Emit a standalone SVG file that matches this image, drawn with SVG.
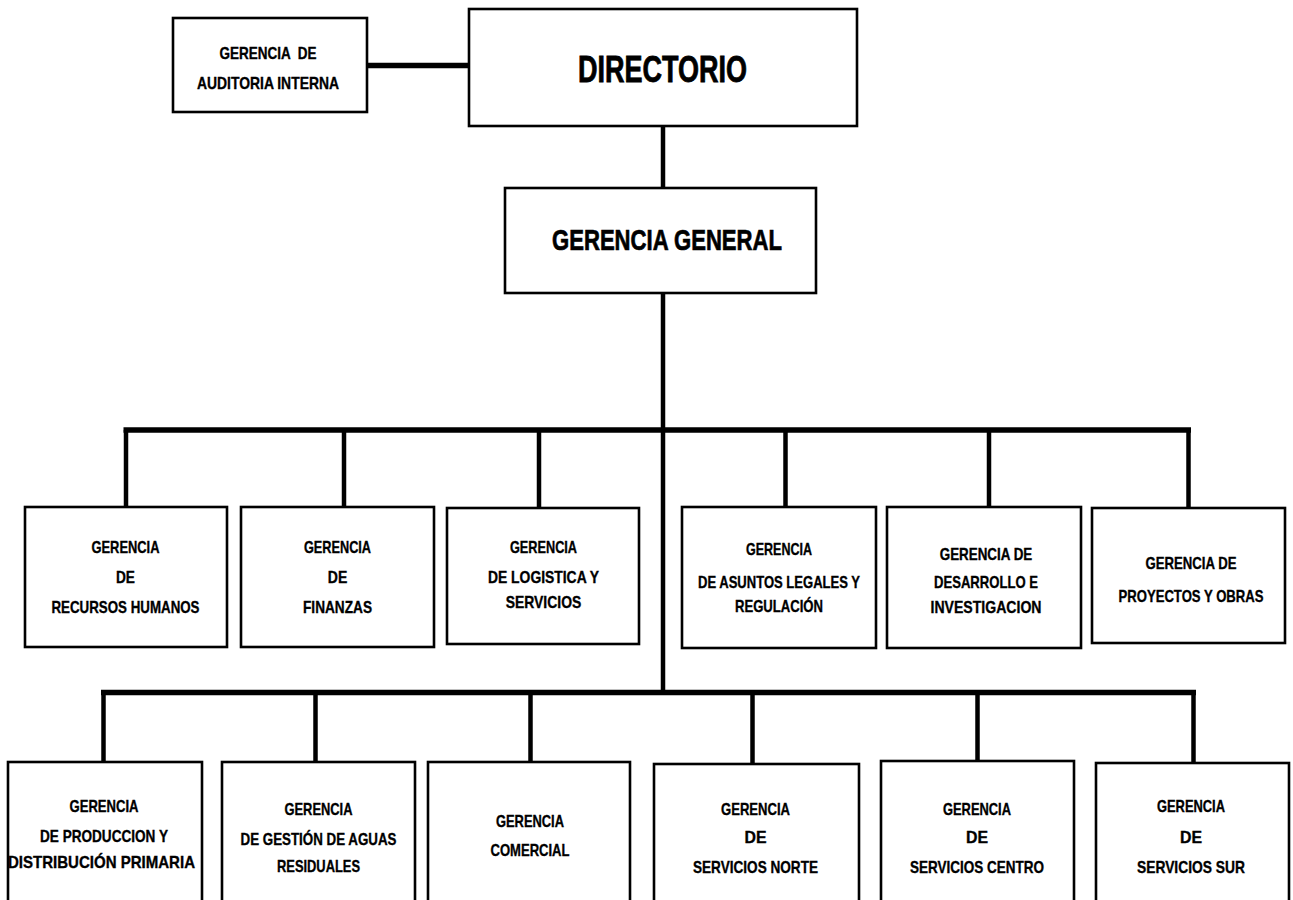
<svg xmlns="http://www.w3.org/2000/svg" width="1293" height="900" viewBox="0 0 1293 900">
<style>
.box{fill:#fff;stroke:#000;stroke-width:2.6}
.t{font-family:"Liberation Sans",Arial,sans-serif;font-weight:bold;font-size:17px;fill:#000;stroke:#000;stroke-width:0.35;text-anchor:middle}
.big{font-size:36px;stroke-width:0.8}
.gg{font-size:30px;stroke-width:0.7}
.c{stroke:#000;fill:none;stroke-linecap:butt}
.thick{stroke-width:5.5}
.mid{stroke-width:4.5}
</style>
<rect width="1293" height="900" fill="#fff"/>
<g id="connectors">
<line class="c thick" x1="367" y1="65.5" x2="469" y2="65.5"/>
<line class="c mid" x1="663" y1="126" x2="663" y2="188"/>
<line class="c mid" x1="663" y1="293" x2="663" y2="695"/>
<line class="c thick" x1="123.5" y1="430" x2="1191" y2="430"/>
<line class="c mid" x1="126" y1="430" x2="126" y2="507"/>
<line class="c mid" x1="344" y1="430" x2="344" y2="507"/>
<line class="c mid" x1="539" y1="430" x2="539" y2="508"/>
<line class="c mid" x1="785.5" y1="430" x2="785.5" y2="507"/>
<line class="c mid" x1="989" y1="430" x2="989" y2="507"/>
<line class="c mid" x1="1188.5" y1="430" x2="1188.5" y2="508"/>
<line class="c thick" x1="101" y1="692.5" x2="1196" y2="692.5"/>
<line class="c mid" x1="103.5" y1="692.5" x2="103.5" y2="762"/>
<line class="c mid" x1="315.5" y1="692.5" x2="315.5" y2="762"/>
<line class="c mid" x1="530.5" y1="692.5" x2="530.5" y2="762"/>
<line class="c mid" x1="752.5" y1="692.5" x2="752.5" y2="764"/>
<line class="c mid" x1="977.5" y1="692.5" x2="977.5" y2="761"/>
<line class="c mid" x1="1193.5" y1="692.5" x2="1193.5" y2="763"/>
</g>
<g id="auditoria">
<rect class="box" x="173" y="18" width="194" height="94"/>
<text class="t" x="268" y="59" textLength="97" lengthAdjust="spacingAndGlyphs" xml:space="preserve">GERENCIA  DE</text>
<text class="t" x="268" y="89" textLength="142" lengthAdjust="spacingAndGlyphs">AUDITORIA INTERNA</text>
</g>
<g id="directorio">
<rect class="box" x="469" y="9" width="388" height="117"/>
<text class="t big" x="662.5" y="82" textLength="169" lengthAdjust="spacingAndGlyphs">DIRECTORIO</text>
</g>
<g id="gerencia-general">
<rect class="box" x="505" y="188" width="311" height="105"/>
<text class="t gg" x="667" y="250" textLength="230" lengthAdjust="spacingAndGlyphs">GERENCIA GENERAL</text>
</g>
<g id="rrhh">
<rect class="box" x="25" y="507" width="202" height="140"/>
<text class="t" x="125.5" y="553" textLength="68" lengthAdjust="spacingAndGlyphs">GERENCIA</text>
<text class="t" x="125.5" y="583" textLength="19" lengthAdjust="spacingAndGlyphs">DE</text>
<text class="t" x="125.5" y="613" textLength="148" lengthAdjust="spacingAndGlyphs">RECURSOS HUMANOS</text>
</g>
<g id="finanzas">
<rect class="box" x="241" y="507" width="193" height="140"/>
<text class="t" x="337.5" y="553" textLength="67" lengthAdjust="spacingAndGlyphs">GERENCIA</text>
<text class="t" x="337.5" y="583" textLength="19.5" lengthAdjust="spacingAndGlyphs">DE</text>
<text class="t" x="337.5" y="613" textLength="69" lengthAdjust="spacingAndGlyphs">FINANZAS</text>
</g>
<g id="logistica">
<rect class="box" x="447" y="508" width="192" height="136"/>
<text class="t" x="543.5" y="553" textLength="67" lengthAdjust="spacingAndGlyphs">GERENCIA</text>
<text class="t" x="543.5" y="583" textLength="111" lengthAdjust="spacingAndGlyphs">DE LOGISTICA Y</text>
<text class="t" x="543.5" y="608" textLength="75.5" lengthAdjust="spacingAndGlyphs">SERVICIOS</text>
</g>
<g id="legales">
<rect class="box" x="682" y="507" width="194" height="141"/>
<text class="t" x="779" y="555" textLength="66" lengthAdjust="spacingAndGlyphs">GERENCIA</text>
<text class="t" x="779" y="588" textLength="162" lengthAdjust="spacingAndGlyphs">DE ASUNTOS LEGALES Y</text>
<text class="t" x="779" y="612" textLength="88" lengthAdjust="spacingAndGlyphs">REGULACIÓN</text>
</g>
<g id="desarrollo">
<rect class="box" x="887" y="507" width="194" height="141"/>
<text class="t" x="986" y="560" textLength="92.5" lengthAdjust="spacingAndGlyphs">GERENCIA DE</text>
<text class="t" x="986" y="588" textLength="104" lengthAdjust="spacingAndGlyphs">DESARROLLO E</text>
<text class="t" x="986" y="613" textLength="111" lengthAdjust="spacingAndGlyphs">INVESTIGACION</text>
</g>
<g id="proyectos">
<rect class="box" x="1092" y="508" width="193" height="135"/>
<text class="t" x="1191" y="569" textLength="91" lengthAdjust="spacingAndGlyphs">GERENCIA DE</text>
<text class="t" x="1191" y="602" textLength="145" lengthAdjust="spacingAndGlyphs">PROYECTOS Y OBRAS</text>
</g>
<g id="produccion">
<rect class="box" x="8" y="762" width="194" height="150"/>
<text class="t" x="104" y="812" textLength="69" lengthAdjust="spacingAndGlyphs">GERENCIA</text>
<text class="t" x="104" y="842" textLength="128" lengthAdjust="spacingAndGlyphs">DE PRODUCCION Y</text>
<text class="t" x="101.5" y="868" textLength="187" lengthAdjust="spacingAndGlyphs">DISTRIBUCIÓN PRIMARIA</text>
</g>
<g id="aguas-residuales">
<rect class="box" x="222" y="762" width="193" height="150"/>
<text class="t" x="318.5" y="815" textLength="68" lengthAdjust="spacingAndGlyphs">GERENCIA</text>
<text class="t" x="318.5" y="845" textLength="156" lengthAdjust="spacingAndGlyphs">DE GESTIÓN DE AGUAS</text>
<text class="t" x="318.5" y="872" textLength="83" lengthAdjust="spacingAndGlyphs">RESIDUALES</text>
</g>
<g id="comercial">
<rect class="box" x="428" y="762" width="202" height="150"/>
<text class="t" x="530" y="827" textLength="68" lengthAdjust="spacingAndGlyphs">GERENCIA</text>
<text class="t" x="530" y="856" textLength="79" lengthAdjust="spacingAndGlyphs">COMERCIAL</text>
</g>
<g id="norte">
<rect class="box" x="654" y="764" width="205" height="150"/>
<text class="t" x="755.5" y="815" textLength="69" lengthAdjust="spacingAndGlyphs">GERENCIA</text>
<text class="t" x="755.5" y="843" textLength="22" lengthAdjust="spacingAndGlyphs">DE</text>
<text class="t" x="755.5" y="873" textLength="125" lengthAdjust="spacingAndGlyphs">SERVICIOS NORTE</text>
</g>
<g id="centro">
<rect class="box" x="881" y="761" width="193" height="150"/>
<text class="t" x="977" y="815" textLength="68" lengthAdjust="spacingAndGlyphs">GERENCIA</text>
<text class="t" x="977" y="843" textLength="22" lengthAdjust="spacingAndGlyphs">DE</text>
<text class="t" x="977" y="873" textLength="134" lengthAdjust="spacingAndGlyphs">SERVICIOS CENTRO</text>
</g>
<g id="sur">
<rect class="box" x="1096" y="763" width="193" height="150"/>
<text class="t" x="1191" y="812" textLength="68" lengthAdjust="spacingAndGlyphs">GERENCIA</text>
<text class="t" x="1191" y="843" textLength="22" lengthAdjust="spacingAndGlyphs">DE</text>
<text class="t" x="1191" y="873" textLength="108" lengthAdjust="spacingAndGlyphs">SERVICIOS SUR</text>
</g>
</svg>
